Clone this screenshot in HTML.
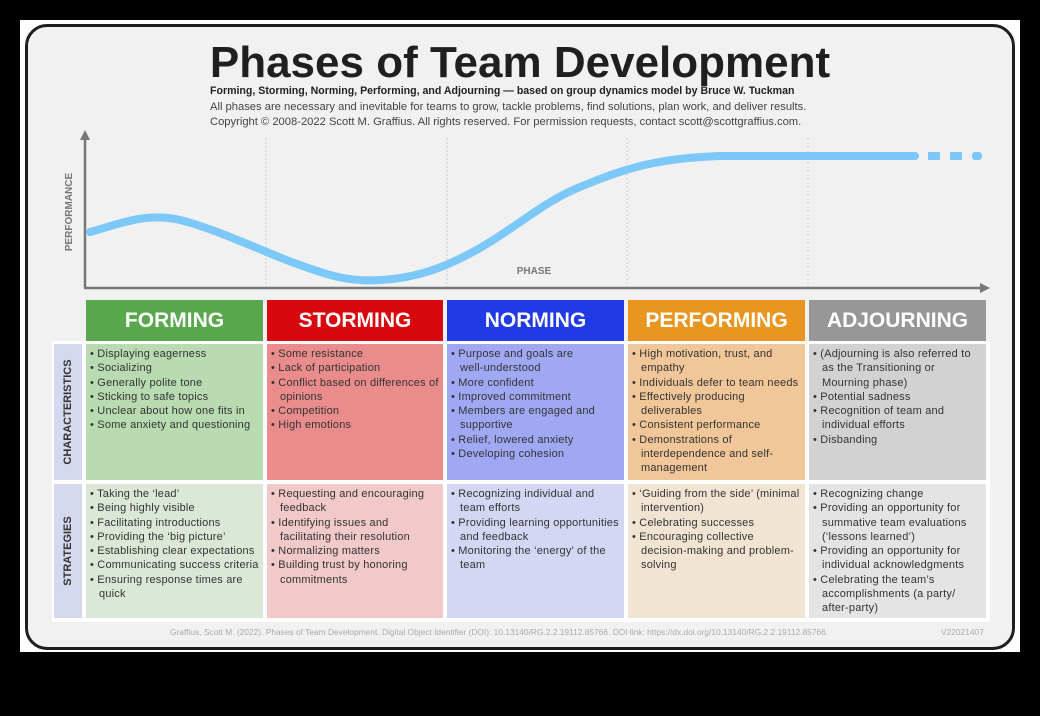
<!DOCTYPE html>
<html><head><meta charset="utf-8"><style>
*{margin:0;padding:0;box-sizing:border-box}
body{width:1040px;height:716px;background:#000;position:relative;overflow:hidden;font-family:"Liberation Sans",sans-serif}
.frame{position:absolute;left:20px;top:20px;width:1000px;height:632px;background:#fff}
.card{position:absolute;left:25px;top:24px;width:990px;height:626px;background:#f1f1f1;border:3px solid #1e1e1e;border-radius:22px}
.t{position:absolute;left:0;width:1040px;text-align:center;top:38px;font-size:44px;font-weight:bold;color:#1f1f1f;letter-spacing:0px}
.sub{position:absolute;left:210px;font-size:11.2px;color:#444;white-space:nowrap}
.hd{position:absolute;top:300px;height:41px;color:#fff;font-weight:bold;font-size:21px;text-align:center;line-height:41px}
.c{position:absolute;font-size:11px;letter-spacing:0.2px;color:#333;line-height:14.3px;padding:3px 4px 0 4px}
.c div{padding-left:9px;text-indent:-9px}
.lab{position:absolute;left:54px;width:28px;background:#d5d8ee}
.lab span{position:absolute;left:50%;top:50%;transform:translate(-50%,-50%) rotate(-90deg);font-weight:bold;font-size:11px;color:#333;white-space:nowrap}
</style></head><body>
<div class="frame"></div>
<div class="card"></div>
<div class="t">Phases of Team Development</div>
<div class="sub" style="top:85px;font-weight:bold;color:#222;font-size:10.6px">Forming, Storming, Norming, Performing, and Adjourning — based on group dynamics model by Bruce W. Tuckman</div>
<div class="sub" style="top:101px">All phases are necessary and inevitable for teams to grow, tackle problems, find solutions, plan work, and deliver results.</div>
<div class="sub" style="top:116px">Copyright © 2008-2022 Scott M. Graffius. All rights reserved. For permission requests, contact scott@scottgraffius.com.</div>
<svg style="position:absolute;left:0;top:0" width="1040" height="716">
<g stroke="#ccc" stroke-dasharray="2 2" stroke-width="1">
<line x1="266" y1="138" x2="266" y2="287"/><line x1="447" y1="138" x2="447" y2="287"/><line x1="627" y1="138" x2="627" y2="287"/><line x1="808" y1="138" x2="808" y2="287"/></g>
<line x1="85" y1="288" x2="85" y2="138" stroke="#777" stroke-width="2.5"/>
<polygon points="80,140 90,140 85,130" fill="#777"/>
<line x1="84" y1="288" x2="982" y2="288" stroke="#777" stroke-width="2.5"/>
<polygon points="980,283 980,293 990,288" fill="#777"/>
<text x="72" y="212" transform="rotate(-90 72 212)" text-anchor="middle" font-size="10" font-weight="bold" fill="#777" font-family="Liberation Sans">PERFORMANCE</text>
<text x="534" y="274" text-anchor="middle" font-size="10" font-weight="bold" fill="#777" font-family="Liberation Sans">PHASE</text>
<path d="M90,232 C120,224 145,212 180,220 C220,230 270,255 300,265 C330,276 350,282 380,280 C420,278 450,265 480,248 C520,225 545,200 585,185 C625,168 660,158 720,156 L915,156" fill="none" stroke="#7cc8f8" stroke-width="8" stroke-linecap="round"/>
<g fill="#7cc8f8"><rect x="928" y="152" width="12" height="8"/><rect x="950" y="152" width="12" height="8"/><rect x="972" y="152" width="10" height="8" rx="3"/></g>
</svg>
<div style="position:absolute;left:52px;top:341px;width:938px;height:281px;background:#fff"></div>
<div class="lab" style="top:344px;height:136px"><span>CHARACTERISTICS</span></div>
<div class="lab" style="top:484px;height:134px"><span>STRATEGIES</span></div>

<div class="hd" style="left:86px;width:177px;background:#5aa84e">FORMING</div>
<div class="hd" style="left:267px;width:176px;background:#d9080f">STORMING</div>
<div class="hd" style="left:447px;width:177px;background:#2239e6">NORMING</div>
<div class="hd" style="left:628px;width:177px;background:#e8961f">PERFORMING</div>
<div class="hd" style="left:809px;width:177px;background:#979797">ADJOURNING</div>

<div class="c" style="left:86px;top:344px;width:177px;height:136px;background:#b8dbb2">
<div>• Displaying eagerness</div><div>• Socializing</div><div>• Generally polite tone</div><div>• Sticking to safe topics</div><div>• Unclear about how one fits in</div><div>• Some anxiety and questioning</div></div>
<div class="c" style="left:267px;top:344px;width:176px;height:136px;background:#ea8c8c">
<div>• Some resistance</div><div>• Lack of participation</div><div>• Conflict based on differences of opinions</div><div>• Competition</div><div>• High emotions</div></div>
<div class="c" style="left:447px;top:344px;width:177px;height:136px;background:#a0a8f4">
<div>• Purpose and goals are<br>well-understood</div><div>• More confident</div><div>• Improved commitment</div><div>• Members are engaged and supportive</div><div>• Relief, lowered anxiety</div><div>• Developing cohesion</div></div>
<div class="c" style="left:628px;top:344px;width:177px;height:136px;background:#f1c699">
<div>• High motivation, trust, and empathy</div><div>• Individuals defer to team needs</div><div>• Effectively producing deliverables</div><div>• Consistent performance</div><div>• Demonstrations of interdependence and self-management</div></div>
<div class="c" style="left:809px;top:344px;width:177px;height:136px;background:#d2d2d2">
<div>• (Adjourning is also referred to as the Transitioning or Mourning phase)</div><div>• Potential sadness</div><div>• Recognition of team and individual efforts</div><div>• Disbanding</div></div>

<div class="c" style="left:86px;top:484px;width:177px;height:134px;background:#dbe8d8">
<div>• Taking the ‘lead’</div><div>• Being highly visible</div><div>• Facilitating introductions</div><div>• Providing the ‘big picture’</div><div>• Establishing clear expectations</div><div>• Communicating success criteria</div><div>• Ensuring response times are quick</div></div>
<div class="c" style="left:267px;top:484px;width:176px;height:134px;background:#f1c9c9">
<div>• Requesting and encouraging feedback</div><div>• Identifying issues and facilitating their resolution</div><div>• Normalizing matters</div><div>• Building trust by honoring commitments</div></div>
<div class="c" style="left:447px;top:484px;width:177px;height:134px;background:#d4d7f4">
<div>• Recognizing individual and team efforts</div><div>• Providing learning opportunities and feedback</div><div>• Monitoring the ‘energy’ of the team</div></div>
<div class="c" style="left:628px;top:484px;width:177px;height:134px;background:#f1e4d3">
<div>• ‘Guiding from the side’ (minimal intervention)</div><div>• Celebrating successes</div><div>• Encouraging collective decision-making and problem-solving</div></div>
<div class="c" style="left:809px;top:484px;width:177px;height:134px;background:#e4e4e4">
<div>• Recognizing change</div><div>• Providing an opportunity for summative team evaluations (‘lessons learned’)</div><div>• Providing an opportunity for individual acknowledgments</div><div>• Celebrating the team’s accomplishments (a party/ after-party)</div></div>

<div style="position:absolute;left:170px;top:627px;font-size:8.4px;color:#aaa;white-space:nowrap">Graffius, Scott M. (2022). Phases of Team Development. Digital Object Identifier (DOI): 10.13140/RG.2.2.19112.85766. DOI link: https://dx.doi.org/10.13140/RG.2.2.19112.85766.</div>
<div style="position:absolute;left:941px;top:627px;font-size:8.4px;color:#aaa">V22021407</div>
</body></html>
